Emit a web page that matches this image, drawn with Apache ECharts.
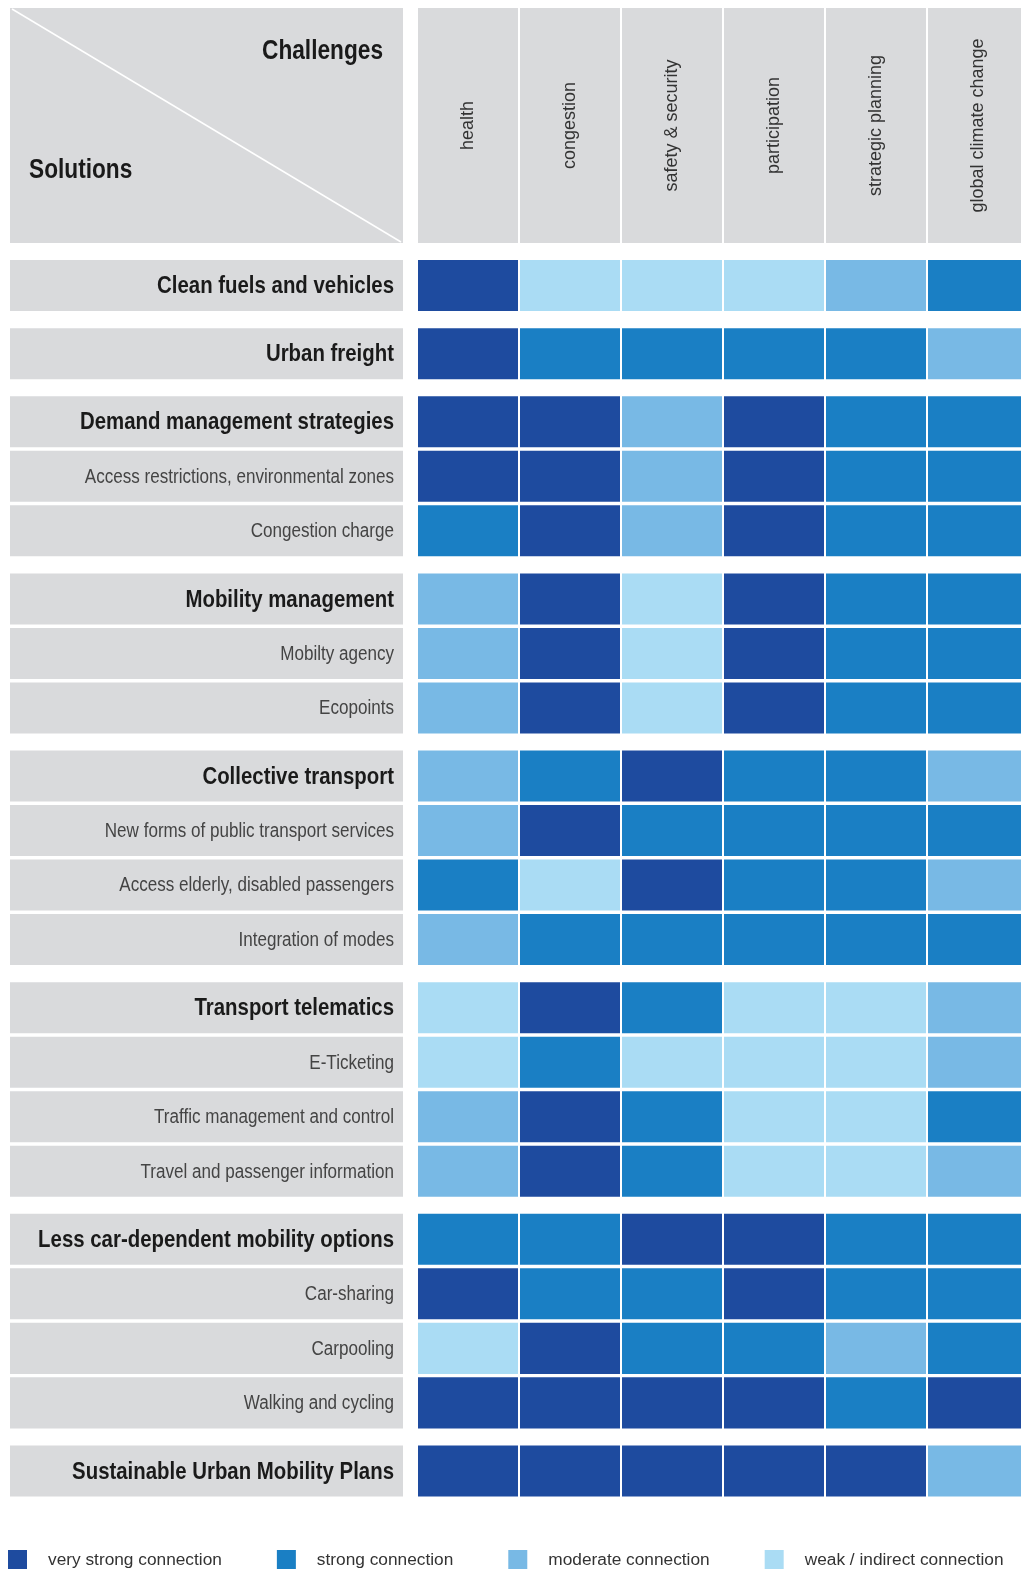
<!DOCTYPE html>
<html>
<head>
<meta charset="utf-8">
<script src="https://cdn.jsdelivr.net/npm/echarts@6/dist/echarts.min.js"></script>
<style>
  html, body { margin: 0; padding: 0; background: #fff; }
  #main { width: 1021px; height: 1569px; }
</style>
</head>
<body>
<div id="main"></div>
<script>
// 列：challenges
var challenges = ['health', 'congestion', 'safety & security', 'participation', 'strategic planning', 'global climate change'];

// 行：solutions
var solutions = [
  'Clean fuels and vehicles',
  'Urban freight',
  'Demand management strategies',
  'Access restrictions, environmental zones',
  'Congestion charge',
  'Mobility management',
  'Mobilty agency',
  'Ecopoints',
  'Collective transport',
  'New forms of public transport services',
  'Access elderly, disabled passengers',
  'Integration of modes',
  'Transport telematics',
  'E-Ticketing',
  'Traffic management and control',
  'Travel and passenger information',
  'Less car-dependent mobility options',
  'Car-sharing',
  'Carpooling',
  'Walking and cycling',
  'Sustainable Urban Mobility Plans'
];
var groupOf   = [0, 1, 2, 2, 2, 3, 3, 3, 4, 4, 4, 4, 5, 5, 5, 5, 6, 6, 6, 6, 7];
var isHeading = [1, 1, 1, 0, 0, 1, 0, 0, 1, 0, 0, 0, 1, 0, 0, 0, 1, 0, 0, 0, 1];

// 4 = very strong, 3 = strong, 2 = moderate, 1 = weak / indirect
var levels = [
  [4, 1, 1, 1, 2, 3],
  [4, 3, 3, 3, 3, 2],
  [4, 4, 2, 4, 3, 3],
  [4, 4, 2, 4, 3, 3],
  [3, 4, 2, 4, 3, 3],
  [2, 4, 1, 4, 3, 3],
  [2, 4, 1, 4, 3, 3],
  [2, 4, 1, 4, 3, 3],
  [2, 3, 4, 3, 3, 2],
  [2, 4, 3, 3, 3, 3],
  [3, 1, 4, 3, 3, 2],
  [2, 3, 3, 3, 3, 3],
  [1, 4, 3, 1, 1, 2],
  [1, 3, 1, 1, 1, 2],
  [2, 4, 3, 1, 1, 3],
  [2, 4, 3, 1, 1, 2],
  [3, 3, 4, 4, 3, 3],
  [4, 3, 3, 4, 3, 3],
  [1, 4, 3, 3, 2, 3],
  [4, 4, 4, 4, 3, 4],
  [4, 4, 4, 4, 4, 2]
];
var levelNames = ['very strong connection', 'strong connection', 'moderate connection', 'weak / indirect connection'];
var levelColors = ['#1e4b9f', '#1a7fc4', '#78b9e5', '#aadcf4'];

var GROUP_GAP = 0.25;   // 组间额外间隔（行单位）
var ROW_GAP = 0.064;    // 行间白线
var Y_MIN = -4.624;     // 表头占位
var HEAD_END = -0.312;
var GRAY = '#d9dadc';
var SANS = '"Liberation Sans", Arial, sans-serif';
var NARROW_X = 0.86;    // 模拟窄体字

function rowStart(i) {
  return i + groupOf[i] * GROUP_GAP;
}

var myChart = echarts.init(document.getElementById('main'));

// 单元格
function cellItem(params, api) {
  var c = api.value(0), y = api.value(1);
  var p0 = api.coord([c, y]);
  var p1 = api.coord([c + 1, y + 1 - ROW_GAP]);
  return {
    type: 'rect',
    shape: { x: p0[0], y: p0[1], width: p1[0] - p0[0] - 2, height: p1[1] - p0[1] },
    style: { fill: api.visual('color') }
  };
}

var cellSeries = levelNames.map(function (name, k) {
  var lv = 4 - k;
  var data = [];
  levels.forEach(function (row, i) {
    row.forEach(function (v, c) {
      if (v === lv) data.push([c, rowStart(i)]);
    });
  });
  return {
    name: name,
    type: 'custom',
    renderItem: cellItem,
    itemStyle: { color: levelColors[k] },
    encode: { x: 0, y: 1 },
    data: data,
    silent: true
  };
});

// 左侧标签
var labelSeries = {
  type: 'custom',
  silent: true,
  encode: { x: 0, y: 1 },
  data: solutions.map(function (s, i) { return [0, rowStart(i), i]; }),
  renderItem: function (params, api) {
    var y = api.value(1), idx = api.value(2);
    var p0 = api.coord([0, y]);
    var p1 = api.coord([0, y + 1 - ROW_GAP]);
    var right = p0[0] - 15;
    var bold = isHeading[idx] === 1;
    return {
      type: 'group',
      children: [{
        type: 'rect',
        shape: { x: 10, y: p0[1], width: right - 10, height: p1[1] - p0[1] },
        style: { fill: GRAY }
      }, {
        type: 'text',
        x: right - 9,
        y: (p0[1] + p1[1]) / 2 + 1,
        scaleX: bold ? 0.85 : 0.875,
        style: {
          text: solutions[idx],
          textAlign: 'right',
          textVerticalAlign: 'middle',
          fontFamily: SANS,
          fontWeight: bold ? 'bold' : 'normal',
          fontSize: bold ? 24 : 19.5,
          fill: bold ? '#1a1a1a' : '#444'
        }
      }]
    };
  }
};

// 表头
var headerSeries = {
  type: 'custom',
  silent: true,
  encode: { x: 0, y: 1 },
  data: challenges.map(function (c, i) { return [i, Y_MIN]; }),
  renderItem: function (params, api) {
    var c = api.value(0);
    var p0 = api.coord([c, Y_MIN]);
    var p1 = api.coord([c + 1, HEAD_END]);
    return {
      type: 'group',
      children: [{
        type: 'rect',
        shape: { x: p0[0], y: p0[1], width: p1[0] - p0[0] - 2, height: p1[1] - p0[1] },
        style: { fill: GRAY }
      }, {
        type: 'text',
        x: (p0[0] + p1[0]) / 2 - 1,
        y: (p0[1] + p1[1]) / 2,
        rotation: Math.PI / 2,
        style: {
          text: challenges[params.dataIndex],
          textAlign: 'center',
          textVerticalAlign: 'middle',
          fontFamily: SANS,
          fontSize: 18,
          fill: '#333'
        }
      }]
    };
  }
};

var option = {
  animation: false,
  backgroundColor: '#fff',
  grid: { left: 418, top: 8, width: 612, height: 1492, outerBoundsMode: 'none', containLabel: false },
  xAxis: { type: 'value', min: 0, max: 6, show: false },
  yAxis: { type: 'value', inverse: true, min: Y_MIN, max: 22.75, show: false },
  legend: {
    data: levelNames,
    left: 3,
    top: 1545,
    width: 1015,
    icon: 'rect',
    itemWidth: 19,
    itemHeight: 20,
    itemGap: 55,
    selectedMode: false,
    textStyle: {
      fontFamily: SANS,
      fontSize: 17.3,
      color: '#333',
      padding: [0, 0, 0, 16]
    }
  },
  graphic: [{
    type: 'group',
    silent: true,
    children: [{
      type: 'rect',
      shape: { x: 10, y: 8, width: 393, height: 235 },
      style: { fill: GRAY }
    }, {
      type: 'line',
      shape: { x1: 12, y1: 9, x2: 401, y2: 242 },
      style: { stroke: '#fff', lineWidth: 1.5 }
    }, {
      type: 'text',
      x: 383, y: 52,
      scaleX: 0.84,
      style: {
        text: 'Challenges', textAlign: 'right', textVerticalAlign: 'middle',
        fontFamily: SANS, fontWeight: 'bold', fontSize: 27, fill: '#1a1a1a'
      }
    }, {
      type: 'text',
      x: 29, y: 171,
      scaleX: 0.84,
      style: {
        text: 'Solutions', textAlign: 'left', textVerticalAlign: 'middle',
        fontFamily: SANS, fontWeight: 'bold', fontSize: 27, fill: '#1a1a1a'
      }
    }]
  }],
  series: [headerSeries, labelSeries].concat(cellSeries)
};

myChart.setOption(option);
</script>
</body>
</html>
